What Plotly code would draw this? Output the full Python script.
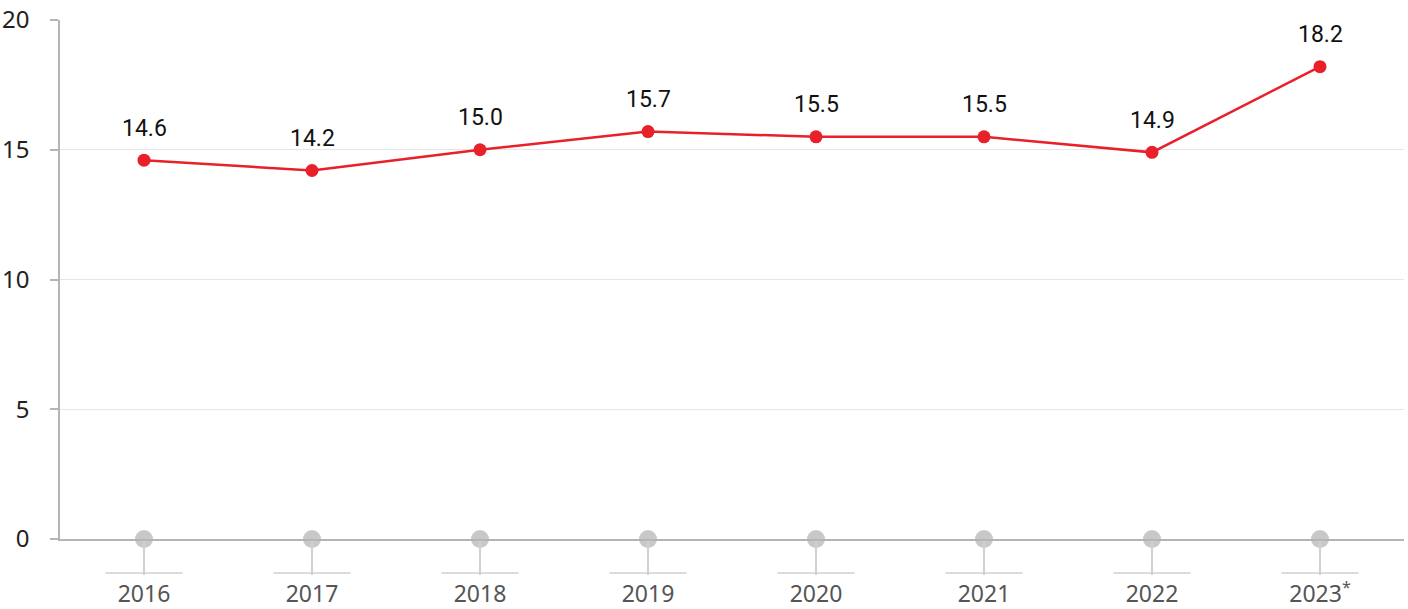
import plotly.graph_objects as go

years = ["2016", "2017", "2018", "2019", "2020", "2021", "2022", "2023<sup>*</sup>"]
values = [14.6, 14.2, 15.0, 15.7, 15.5, 15.5, 14.9, 18.2]
labels = ["14.6", "14.2", "15.0", "15.7", "15.5", "15.5", "14.9", "18.2"]
y_ticks = [0, 5, 10, 15, 20]
baseline = [0] * len(years)

fig = go.Figure()

# grey base markers on the category axis
fig.add_trace(go.Scatter(
    x=years, y=baseline, mode="markers",
    marker=dict(size=18, color="#c8c8c8"),
    cliponaxis=False, hoverinfo="skip", showlegend=False))

# main red series
fig.add_trace(go.Scatter(
    x=years, y=values, mode="lines+markers",
    line=dict(color="#e8202a", width=2.5),
    marker=dict(size=13, color="#e8202a"),
    cliponaxis=False, showlegend=False))

for i, (v, t) in enumerate(zip(values, labels)):
    fig.add_annotation(x=i, y=v, text=t, showarrow=False, yshift=32,
                       font=dict(family="Roboto", size=23, color="#111"))

# short underlines below each category tick
for i, yr in enumerate(years):
    fig.add_shape(type="line", xref="x", yref="paper",
                  x0=i - 0.23, x1=i + 0.23, y0=-0.0655, y1=-0.0655,
                  line=dict(color="#d0d0d0", width=1.5))

fig.update_layout(
    width=1408, height=609,
    margin=dict(l=60, r=4, t=20, b=70),
    plot_bgcolor="white", paper_bgcolor="white",
    font=dict(family="Noto Sans", color="#222"),
    xaxis=dict(
        type="category", range=[-0.5, 7.5], automargin=False,
        showgrid=False, showline=True, linecolor="#b5b5b5", linewidth=1.5,
        ticks="outside", ticklen=34, tickcolor="#d0d0d0", tickwidth=1.5,
        tickfont=dict(family="Noto Sans", size=23, color="#555"),
        ticklabelstandoff=0,
    ),
    yaxis=dict(
        range=[0, 20], tickvals=y_ticks, automargin=False,
        showgrid=True, gridcolor="#e6e6e6", gridwidth=1,
        showline=True, linecolor="#b5b5b5", linewidth=1.5,
        ticks="outside", ticklen=8, tickcolor="#b5b5b5", tickwidth=1.5,
        tickfont=dict(family="Noto Sans", size=24, color="#222"),
        ticklabelstandoff=16, zeroline=False,
    ),
)

fig.write_html("out.html")
